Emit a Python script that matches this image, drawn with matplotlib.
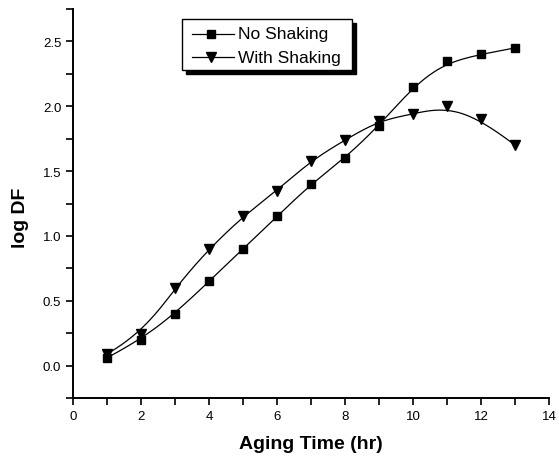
import numpy as np
import matplotlib
matplotlib.use("Agg")
import matplotlib.pyplot as plt
from matplotlib.patches import Rectangle
from matplotlib.lines import Line2D

plt.rcParams['font.family'] = ['Liberation Sans', 'DejaVu Sans']

time_hr = [1, 2, 3, 4, 5, 6, 7, 8, 9, 10, 11, 12, 13]
no_shaking = [0.06, 0.20, 0.40, 0.65, 0.90, 1.15, 1.40, 1.60, 1.85, 2.15, 2.35, 2.40, 2.45]
with_shaking = [0.09, 0.24, 0.60, 0.90, 1.15, 1.35, 1.58, 1.74, 1.89, 1.94, 2.00, 1.90, 1.70]
xticks = [0, 2, 4, 6, 8, 10, 12, 14]
yticks = [0.0, 0.5, 1.0, 1.5, 2.0, 2.5]


def bspline(px, py, n=400, k=3):
    """Clamped cubic B-spline using data as control points (Origin style)."""
    P = np.column_stack([px, py]).astype(float)
    m = len(P)
    knots = np.concatenate([np.zeros(k), np.linspace(0, 1, m - k + 1), np.ones(k)])
    ts = np.linspace(0, 1, n)
    ts[-1] = 1 - 1e-12

    def basis(i, kk, t):
        if kk == 0:
            return 1.0 if knots[i] <= t < knots[i + 1] else 0.0
        a = 0.0
        d1 = knots[i + kk] - knots[i]
        if d1 > 0:
            a += (t - knots[i]) / d1 * basis(i, kk - 1, t)
        d2 = knots[i + kk + 1] - knots[i + 1]
        if d2 > 0:
            a += (knots[i + kk + 1] - t) / d2 * basis(i + 1, kk - 1, t)
        return a

    out = np.zeros((n, 2))
    for j, t in enumerate(ts):
        w = np.array([basis(i, k, t) for i in range(m)])
        out[j] = w @ P
    return out[:, 0], out[:, 1]


fig = plt.figure(figsize=(5.59, 4.64), dpi=100)
ax = fig.add_axes([73 / 559, 1 - 399 / 464, (549 - 73) / 559, (399 - 10) / 464])

for ys, mk, ms in [(no_shaking, 's', 5.3), (with_shaking, 'v', 6.8)]:
    cx, cy = bspline(time_hr, ys)
    ax.plot(cx, cy, color='black', lw=0.9, zorder=2)
    ax.plot(time_hr, ys, linestyle='none', marker=mk, ms=ms, color='black', zorder=3)

ax.set_xlim(0, 14)
ax.set_ylim(-0.25, 2.75)
ax.set_xticks(xticks)
ax.set_yticks(yticks)
ax.set_xticks(np.arange(1, 14, 2), minor=True)
ax.set_yticks(np.arange(-0.25, 2.76, 0.5), minor=True)
ax.set_yticklabels([f"{v:.1f}" for v in yticks])
ax.tick_params(which='both', direction='out', length=5, width=1.2, labelsize=9.5, colors='black')
ax.tick_params(axis='x', pad=4)
for s in ['top', 'right']:
    ax.spines[s].set_visible(False)
for s in ['left', 'bottom']:
    ax.spines[s].set_linewidth(1.4)

ax.set_xlabel('Aging Time (hr)', fontsize=14, fontweight='bold', labelpad=9)
ax.set_ylabel('log DF', fontsize=14, fontweight='bold')
ax.yaxis.set_label_coords(-0.0915, 0.465)

# legend with shadow
x0, y0, w, h = 182, 20, 170, 51
sh = 4
shadow = Rectangle((x0 + sh, 464 - (y0 + h + sh)), w, h, transform=None, facecolor='black',
                   edgecolor='black', zorder=5)
fig.patches.append(shadow)
box = Rectangle((x0, 464 - (y0 + h)), w, h, transform=None, facecolor='white',
                edgecolor='black', lw=1.0, zorder=6)
fig.patches.append(box)
labels = ['No Shaking', 'With Shaking']
markers = [('s', 5.3), ('v', 6.8)]
for i, (lab, (mk, ms)) in enumerate(zip(labels, markers)):
    yy = 1 - (y0 + 15 + i * 23) / 464
    fig.add_artist(Line2D([(x0 + 10) / 559, (x0 + 52) / 559], [yy, yy], color='black', lw=0.9, zorder=7))
    fig.add_artist(Line2D([(x0 + 29) / 559], [yy], marker=mk, ms=ms, color='black', zorder=8))
    fig.text((x0 + 56) / 559, yy, lab, fontsize=12.5, va='center', ha='left', zorder=9)

fig.savefig('out.png', dpi=100)
